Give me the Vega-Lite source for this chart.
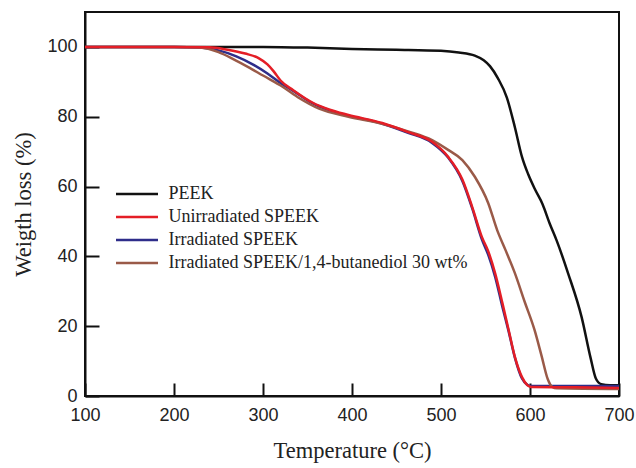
{
  "$schema": "https://vega.github.io/schema/vega-lite/v6.json",
  "width": 534,
  "height": 384,
  "autosize": "none",
  "padding": {"left": 85, "top": 12, "right": 17, "bottom": 72},
  "background": "white",
  "config": {
    "view": {"stroke": "#111111", "strokeWidth": 2},
    "axis": {
      "domainColor": "#111111", "domainWidth": 2,
      "tickColor": "#111111", "tickWidth": 2,
      "grid": false,
      "labelFont": "Liberation Sans", "labelFontSize": 18, "labelColor": "#222222",
      "titleFont": "Liberation Serif", "titleFontSize": 22.5, "titleFontWeight": "normal", "titleColor": "#222222"
    },
    "legend": {"labelFont": "Liberation Serif", "labelFontSize": 18, "labelColor": "#222222", "labelLimit": 0}
  },
  "data": {"values": [
    {"s": "PEEK", "t": 100, "w": 100}, {"s": "PEEK", "t": 200, "w": 100}, {"s": "PEEK", "t": 300, "w": 100},
    {"s": "PEEK", "t": 350, "w": 99.8}, {"s": "PEEK", "t": 400, "w": 99.4}, {"s": "PEEK", "t": 450, "w": 99.2},
    {"s": "PEEK", "t": 500, "w": 98.9}, {"s": "PEEK", "t": 520, "w": 98.4}, {"s": "PEEK", "t": 538, "w": 97.5},
    {"s": "PEEK", "t": 548, "w": 96.2}, {"s": "PEEK", "t": 555, "w": 94.5}, {"s": "PEEK", "t": 564, "w": 91},
    {"s": "PEEK", "t": 574, "w": 85.5}, {"s": "PEEK", "t": 583, "w": 77}, {"s": "PEEK", "t": 591, "w": 68.5},
    {"s": "PEEK", "t": 598, "w": 63.5}, {"s": "PEEK", "t": 606, "w": 59}, {"s": "PEEK", "t": 614, "w": 55},
    {"s": "PEEK", "t": 622, "w": 49.5}, {"s": "PEEK", "t": 630, "w": 44.5}, {"s": "PEEK", "t": 643, "w": 35},
    {"s": "PEEK", "t": 658, "w": 22.6}, {"s": "PEEK", "t": 668, "w": 11}, {"s": "PEEK", "t": 674, "w": 5},
    {"s": "PEEK", "t": 680, "w": 3.4}, {"s": "PEEK", "t": 690, "w": 3.1}, {"s": "PEEK", "t": 700, "w": 3.1},

    {"s": "Irradiated SPEEK", "t": 100, "w": 100}, {"s": "Irradiated SPEEK", "t": 200, "w": 100},
    {"s": "Irradiated SPEEK", "t": 230, "w": 99.8}, {"s": "Irradiated SPEEK", "t": 250, "w": 99},
    {"s": "Irradiated SPEEK", "t": 270, "w": 97.3}, {"s": "Irradiated SPEEK", "t": 290, "w": 94.8},
    {"s": "Irradiated SPEEK", "t": 305, "w": 92.4}, {"s": "Irradiated SPEEK", "t": 320, "w": 89.6},
    {"s": "Irradiated SPEEK", "t": 334, "w": 87.4}, {"s": "Irradiated SPEEK", "t": 356, "w": 83.8},
    {"s": "Irradiated SPEEK", "t": 375, "w": 81.8}, {"s": "Irradiated SPEEK", "t": 396, "w": 80.3},
    {"s": "Irradiated SPEEK", "t": 434, "w": 78}, {"s": "Irradiated SPEEK", "t": 463, "w": 75.4},
    {"s": "Irradiated SPEEK", "t": 490, "w": 72.5}, {"s": "Irradiated SPEEK", "t": 508, "w": 68.3},
    {"s": "Irradiated SPEEK", "t": 524, "w": 61.6}, {"s": "Irradiated SPEEK", "t": 535, "w": 53.8},
    {"s": "Irradiated SPEEK", "t": 546, "w": 44.8}, {"s": "Irradiated SPEEK", "t": 553, "w": 40.5},
    {"s": "Irradiated SPEEK", "t": 561, "w": 34}, {"s": "Irradiated SPEEK", "t": 569, "w": 25.5},
    {"s": "Irradiated SPEEK", "t": 576, "w": 18.5}, {"s": "Irradiated SPEEK", "t": 583, "w": 11},
    {"s": "Irradiated SPEEK", "t": 591, "w": 5}, {"s": "Irradiated SPEEK", "t": 597, "w": 3.2},
    {"s": "Irradiated SPEEK", "t": 600, "w": 2.9}, {"s": "Irradiated SPEEK", "t": 700, "w": 2.9},

    {"s": "Irradiated SPEEK/1,4-butanediol 30 wt%", "t": 100, "w": 100}, {"s": "Irradiated SPEEK/1,4-butanediol 30 wt%", "t": 200, "w": 100},
    {"s": "Irradiated SPEEK/1,4-butanediol 30 wt%", "t": 229, "w": 99.8}, {"s": "Irradiated SPEEK/1,4-butanediol 30 wt%", "t": 250, "w": 98.5},
    {"s": "Irradiated SPEEK/1,4-butanediol 30 wt%", "t": 266, "w": 96.6}, {"s": "Irradiated SPEEK/1,4-butanediol 30 wt%", "t": 285, "w": 94},
    {"s": "Irradiated SPEEK/1,4-butanediol 30 wt%", "t": 300, "w": 91.8}, {"s": "Irradiated SPEEK/1,4-butanediol 30 wt%", "t": 322, "w": 88.6},
    {"s": "Irradiated SPEEK/1,4-butanediol 30 wt%", "t": 341, "w": 85.3}, {"s": "Irradiated SPEEK/1,4-butanediol 30 wt%", "t": 363, "w": 82.3},
    {"s": "Irradiated SPEEK/1,4-butanediol 30 wt%", "t": 396, "w": 80}, {"s": "Irradiated SPEEK/1,4-butanediol 30 wt%", "t": 434, "w": 78},
    {"s": "Irradiated SPEEK/1,4-butanediol 30 wt%", "t": 463, "w": 75.8}, {"s": "Irradiated SPEEK/1,4-butanediol 30 wt%", "t": 490, "w": 73.3},
    {"s": "Irradiated SPEEK/1,4-butanediol 30 wt%", "t": 508, "w": 70.5}, {"s": "Irradiated SPEEK/1,4-butanediol 30 wt%", "t": 524, "w": 67.6},
    {"s": "Irradiated SPEEK/1,4-butanediol 30 wt%", "t": 538, "w": 62.8}, {"s": "Irradiated SPEEK/1,4-butanediol 30 wt%", "t": 553, "w": 55.3},
    {"s": "Irradiated SPEEK/1,4-butanediol 30 wt%", "t": 563, "w": 47.6}, {"s": "Irradiated SPEEK/1,4-butanediol 30 wt%", "t": 573, "w": 41.5},
    {"s": "Irradiated SPEEK/1,4-butanediol 30 wt%", "t": 583, "w": 35.2}, {"s": "Irradiated SPEEK/1,4-butanediol 30 wt%", "t": 594, "w": 27},
    {"s": "Irradiated SPEEK/1,4-butanediol 30 wt%", "t": 605, "w": 19}, {"s": "Irradiated SPEEK/1,4-butanediol 30 wt%", "t": 613, "w": 11.5},
    {"s": "Irradiated SPEEK/1,4-butanediol 30 wt%", "t": 620, "w": 4.8}, {"s": "Irradiated SPEEK/1,4-butanediol 30 wt%", "t": 625, "w": 2.6},
    {"s": "Irradiated SPEEK/1,4-butanediol 30 wt%", "t": 630, "w": 2.2}, {"s": "Irradiated SPEEK/1,4-butanediol 30 wt%", "t": 700, "w": 2.0},

    {"s": "Unirradiated SPEEK", "t": 100, "w": 100}, {"s": "Unirradiated SPEEK", "t": 200, "w": 100},
    {"s": "Unirradiated SPEEK", "t": 240, "w": 99.9}, {"s": "Unirradiated SPEEK", "t": 260, "w": 99.2},
    {"s": "Unirradiated SPEEK", "t": 280, "w": 98.1}, {"s": "Unirradiated SPEEK", "t": 295, "w": 96.8},
    {"s": "Unirradiated SPEEK", "t": 305, "w": 95}, {"s": "Unirradiated SPEEK", "t": 312, "w": 93},
    {"s": "Unirradiated SPEEK", "t": 320, "w": 90.3}, {"s": "Unirradiated SPEEK", "t": 334, "w": 87.6},
    {"s": "Unirradiated SPEEK", "t": 356, "w": 84}, {"s": "Unirradiated SPEEK", "t": 375, "w": 82},
    {"s": "Unirradiated SPEEK", "t": 396, "w": 80.5}, {"s": "Unirradiated SPEEK", "t": 434, "w": 78.2},
    {"s": "Unirradiated SPEEK", "t": 463, "w": 75.6}, {"s": "Unirradiated SPEEK", "t": 490, "w": 72.8},
    {"s": "Unirradiated SPEEK", "t": 508, "w": 68.5}, {"s": "Unirradiated SPEEK", "t": 524, "w": 62},
    {"s": "Unirradiated SPEEK", "t": 535, "w": 54.2}, {"s": "Unirradiated SPEEK", "t": 546, "w": 45.5},
    {"s": "Unirradiated SPEEK", "t": 553, "w": 41.5}, {"s": "Unirradiated SPEEK", "t": 561, "w": 35},
    {"s": "Unirradiated SPEEK", "t": 569, "w": 26.6}, {"s": "Unirradiated SPEEK", "t": 576, "w": 18.9},
    {"s": "Unirradiated SPEEK", "t": 583, "w": 11.2}, {"s": "Unirradiated SPEEK", "t": 591, "w": 5.4},
    {"s": "Unirradiated SPEEK", "t": 597, "w": 3.1}, {"s": "Unirradiated SPEEK", "t": 601, "w": 2.6},
    {"s": "Unirradiated SPEEK", "t": 650, "w": 2.5}, {"s": "Unirradiated SPEEK", "t": 700, "w": 2.3}
  ]},
  "mark": {"type": "line", "strokeWidth": 2.5, "interpolate": "monotone", "clip": true},
  "encoding": {
    "x": {
      "field": "t", "type": "quantitative",
      "scale": {"domain": [100, 700], "nice": false},
      "axis": {"values": [100, 200, 300, 400, 500, 600, 700], "tickSize": -13, "labelPadding": 23,
               "title": "Temperature (°C)", "titlePadding": 15, "labelFlush": false}
    },
    "y": {
      "field": "w", "type": "quantitative",
      "scale": {"domain": [0, 110], "nice": false},
      "axis": {"values": [0, 20, 40, 60, 80, 100], "tickSize": -14, "labelPadding": 22,
               "title": "Weigth loss (%)", "titlePadding": 11}
    },
    "color": {
      "field": "s", "type": "nominal",
      "scale": {
        "domain": ["PEEK", "Unirradiated SPEEK", "Irradiated SPEEK", "Irradiated SPEEK/1,4-butanediol 30 wt%"],
        "range": ["#111111", "#e41e26", "#2e2d8a", "#9a5a48"]
      },
      "legend": {
        "title": null, "orient": "none", "legendX": 43, "legendY": 173,
        "symbolType": "M-3,0H3", "symbolSize": 196, "symbolStrokeWidth": 2.5,
        "labelOffset": 22.5, "rowPadding": 5
      }
    }
  }
}
